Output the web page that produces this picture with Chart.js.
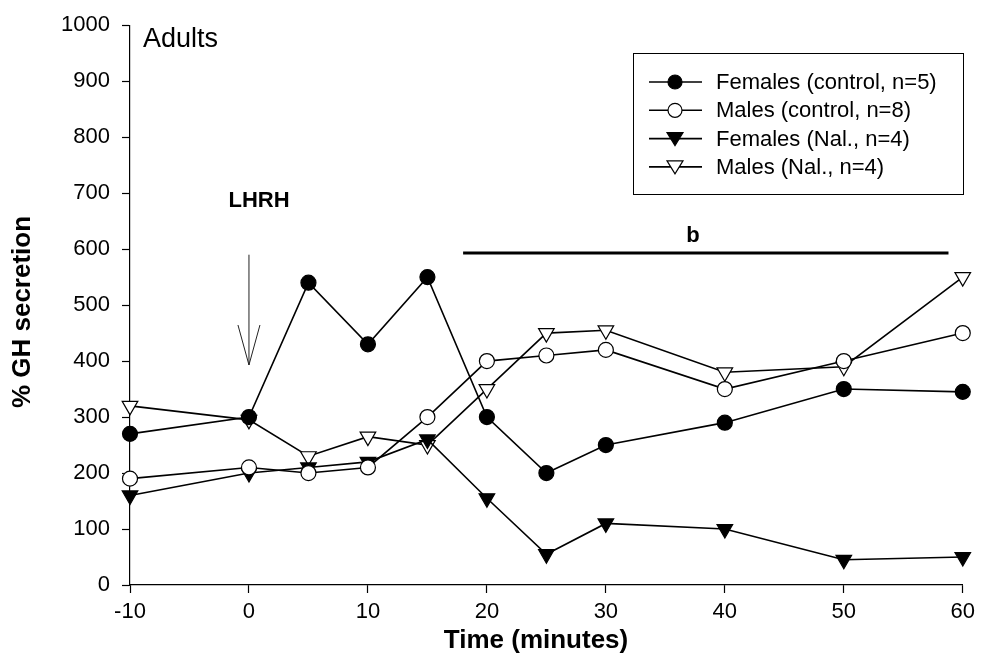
<!DOCTYPE html>
<html>
<head>
<meta charset="utf-8">
<script src="https://cdn.jsdelivr.net/npm/chart.js@4.4.1/dist/chart.umd.min.js"></script>
<style>
  html, body { margin: 0; padding: 0; background: #fff; }
  #wrap { width: 981px; height: 662px; }
</style>
</head>
<body>
<div id="wrap"><canvas id="c" width="981" height="662"></canvas></div>
<script>
// Sampling times (minutes relative to LHRH injection)
const times = [-10, 0, 5, 10, 15, 20, 25, 30, 40, 50, 60];

// % GH secretion per group
const femalesControl = [270, 300, 540, 430, 550, 300, 200, 250, 290, 350, 345];
const malesControl   = [190, 210, 200, 210, 300, 400, 410, 420, 350, 400, 450];
const femalesNal     = [160, 200, 210, 220, 260, 155, 55, 110, 100, 45, 50];
const malesNal       = [320, 295, 230, 265, 250, 350, 450, 455, 380, 390, 550];

const seriesLabels = [
  'Females (control, n=5)',
  'Males (control, n=8)',
  'Females (Nal., n=4)',
  'Males (Nal., n=4)'
];

// Axis ranges and ticks
const xTicks = [-10, 0, 10, 20, 30, 40, 50, 60];
const yRange = [0, 1000];
const yStep = 100;
const xTitle = 'Time (minutes)';
const yTitle = '% GH secretion';

// Annotation values
const lhrhTime = 0;
const arrowFrom = 590;
const arrowTo = 393;
const sigBarStart = 18;
const sigBarEnd = 58.8;
const sigBarLevel = 593;

const FONT = '"Liberation Sans", Arial, Helvetica, sans-serif';

function pts(vals) { return times.map((t, i) => ({ x: t, y: vals[i] })); }

const common = {
  borderColor: '#000',
  borderWidth: 1.6,
  pointBorderColor: '#000',
  pointBorderWidth: 1.2,
  tension: 0,
  fill: false,
  showLine: true,
  clip: false
};

const datasets = [
  Object.assign({}, common, { label: seriesLabels[0], data: pts(femalesControl), pointStyle: 'circle', pointRadius: 7.5, pointBackgroundColor: '#000' }),
  Object.assign({}, common, { label: seriesLabels[1], data: pts(malesControl), pointStyle: 'circle', pointRadius: 7.5, pointBackgroundColor: '#fff' }),
  Object.assign({}, common, { label: seriesLabels[2], data: pts(femalesNal), pointStyle: 'triangle', pointRotation: 180, pointRadius: 9, pointBackgroundColor: '#000' }),
  Object.assign({}, common, { label: seriesLabels[3], data: pts(malesNal), pointStyle: 'triangle', pointRotation: 180, pointRadius: 9, pointBackgroundColor: '#fff' })
];

// Draws axis titles, text labels, injection arrow, significance bar and the boxed legend
const annotations = {
  id: 'annotations',
  afterDatasetsDraw(chart) {
    const { ctx, scales: { x, y } } = chart;
    ctx.save();
    ctx.fillStyle = '#000';
    ctx.strokeStyle = '#000';
    ctx.textBaseline = 'middle';

    // Axis titles
    ctx.font = 'bold 26px ' + FONT;
    ctx.textAlign = 'center';
    ctx.fillText(xTitle, 536, 641);
    ctx.save();
    ctx.translate(23, 312);
    ctx.rotate(-Math.PI / 2);
    ctx.fillText(yTitle, 0, 0);
    ctx.restore();

    // Panel label
    ctx.font = '27px ' + FONT;
    ctx.textAlign = 'left';
    ctx.fillText('Adults', 143, 40);

    // LHRH arrow
    const ax = x.getPixelForValue(lhrhTime);
    const y0 = y.getPixelForValue(arrowFrom);
    const y1 = y.getPixelForValue(arrowTo);
    ctx.font = 'bold 22px ' + FONT;
    ctx.textAlign = 'center';
    ctx.fillText('LHRH', 259, 201);
    ctx.lineWidth = 1;
    ctx.strokeStyle = '#222';
    ctx.beginPath();
    ctx.moveTo(ax, y0); ctx.lineTo(ax, y1);
    ctx.moveTo(ax - 11, y1 - 40); ctx.lineTo(ax, y1); ctx.lineTo(ax + 11, y1 - 40);
    ctx.stroke();
    ctx.strokeStyle = '#000';

    // Significance bar
    const bx0 = x.getPixelForValue(sigBarStart);
    const bx1 = x.getPixelForValue(sigBarEnd);
    const by = y.getPixelForValue(sigBarLevel);
    ctx.lineWidth = 3;
    ctx.beginPath();
    ctx.moveTo(bx0, by); ctx.lineTo(bx1, by);
    ctx.stroke();
    ctx.font = 'bold 22px ' + FONT;
    ctx.fillText('b', 693, by - 17);

    // Legend box
    const lx = 633, ly = 53, lw = 330, lh = 141;
    ctx.lineWidth = 1;
    ctx.strokeRect(lx + 0.5, ly + 0.5, lw, lh);
    ctx.font = '22px ' + FONT;
    ctx.textAlign = 'left';
    chart.data.datasets.forEach((ds, i) => {
      const ry = 82 + i * 28.3;
      ctx.lineWidth = 1.6;
      ctx.beginPath();
      ctx.moveTo(649, ry); ctx.lineTo(702, ry);
      ctx.stroke();
      ctx.fillStyle = ds.pointBackgroundColor;
      ctx.lineWidth = 1.2;
      ctx.beginPath();
      if (ds.pointStyle === 'circle') {
        ctx.arc(675, ry, 7, 0, Math.PI * 2);
      } else {
        ctx.moveTo(667, ry - 6); ctx.lineTo(683, ry - 6); ctx.lineTo(675, ry + 7); ctx.closePath();
      }
      ctx.fill();
      ctx.stroke();
      ctx.fillStyle = '#000';
      ctx.fillText(ds.label, 716, ry + 1);
    });
    ctx.restore();
  }
};

new Chart(document.getElementById('c'), {
  type: 'scatter',
  data: { datasets },
  options: {
    responsive: false,
    animation: false,
    devicePixelRatio: 1,
    layout: { padding: { left: 0, right: 18, top: 19, bottom: 0 } },
    plugins: { legend: { display: false }, tooltip: { enabled: false } },
    scales: {
      x: {
        type: 'linear',
        min: -10, max: 60,
        afterBuildTicks(scale) { scale.ticks = xTicks.map(v => ({ value: v })); },
        afterFit(scale) { scale.height = 77; },
        border: { color: '#000', width: 1.2 },
        grid: { drawOnChartArea: false, color: '#000', tickLength: 8, tickWidth: 1.2 },
        ticks: { color: '#000', font: { family: FONT, size: 22 }, padding: 6, maxRotation: 0, callback: v => String(v) }
      },
      y: {
        min: yRange[0], max: yRange[1],
        afterFit(scale) { scale.width = 130; },
        border: { color: '#000', width: 1.2 },
        grid: { drawOnChartArea: false, color: '#000', tickLength: 8, tickWidth: 1.2 },
        ticks: { stepSize: yStep, color: '#000', font: { family: FONT, size: 22 }, padding: 12, callback: v => String(v) }
      }
    }
  },
  plugins: [annotations]
});
</script>
</body>
</html>
